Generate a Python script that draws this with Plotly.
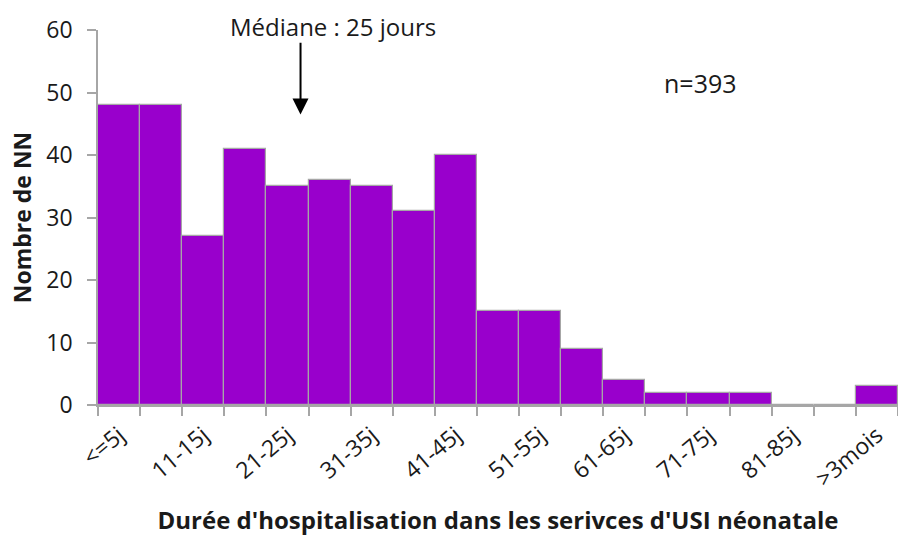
import plotly.graph_objects as go

categories = ["<=5j", "6-10j", "11-15j", "16-20j", "21-25j", "26-30j", "31-35j",
              "36-40j", "41-45j", "46-50j", "51-55j", "56-60j", "61-65j", "66-70j",
              "71-75j", "76-80j", "81-85j", "86-90j", ">3mois"]
counts = [48, 48, 27, 41, 35, 36, 35, 31, 40, 15, 15, 9, 4, 2, 2, 2, 0, 0, 3]
tick_labels = ["<=5j", "", "11-15j", "", "21-25j", "", "31-35j", "", "41-45j", "",
               "51-55j", "", "61-65j", "", "71-75j", "", "81-85j", "", ">3mois"]
y_ticks = [0, 10, 20, 30, 40, 50, 60]

FONT = "Open Sans"
GRAY = "#A6A6A6"
TXT = "#1a1a1a"

fig = go.Figure(go.Bar(
    x=categories, y=counts,
    marker=dict(color="#9900CC", line=dict(color=GRAY, width=1.2)),
    hoverinfo="x+y",
))

fig.update_layout(
    width=898, height=538,
    margin=dict(l=98, r=0, t=30, b=133),
    paper_bgcolor="white", plot_bgcolor="white",
    bargap=0, showlegend=False,
    font=dict(family=FONT, color=TXT),
)

fig.update_xaxes(
    type="category", categoryorder="array", categoryarray=categories,
    tickmode="array", tickvals=categories, ticktext=tick_labels,
    tickson="boundaries", ticks="outside", ticklen=9, tickcolor=GRAY, tickwidth=1.5,
    showline=True, linecolor=GRAY, linewidth=1.5, showgrid=False,
    tickangle=-40, tickfont=dict(size=23, family=FONT, color=TXT),
    ticklabelstandoff=6, automargin=False,
    title=dict(text="<b>Durée d'hospitalisation dans les serivces d'USI néonatale</b>",
               font=dict(size=24, family=FONT, color=TXT), standoff=20),
)
fig.update_yaxes(
    range=[0, 60], tickmode="array", tickvals=y_ticks,
    ticks="outside", ticklen=9, tickcolor=GRAY, tickwidth=1.5,
    showline=True, linecolor=GRAY, linewidth=1.5, showgrid=False, zeroline=False,
    tickfont=dict(size=23, family=FONT, color=TXT), ticklabelstandoff=10,
    automargin=False,
    title=dict(text="<b>Nombre de NN</b>", font=dict(size=23, family=FONT, color=TXT),
               standoff=8),
)

fig.add_annotation(
    x=4.31, y=46.5, xref="x", yref="y",
    ax=4.31, ay=58.2, axref="x", ayref="y",
    showarrow=True, arrowhead=2, arrowsize=1.6, arrowwidth=2, arrowcolor="black", text="",
)
fig.add_annotation(
    x=(333 - 98) / 800, y=(405 - 26) / 375, xref="paper", yref="paper",
    xanchor="center", yanchor="middle",
    text="Médiane : 25 jours", showarrow=False,
    font=dict(size=24, family=FONT, color=TXT),
)
fig.add_annotation(
    x=13.8, y=51.5, xref="x", yref="y", text="n=393", showarrow=False,
    font=dict(size=25, family=FONT, color=TXT),
)

fig.write_html(
    "out.html",
    config={"displayModeBar": False},
    post_script="document.body.style.margin='0';document.body.style.overflow='hidden';",
)
